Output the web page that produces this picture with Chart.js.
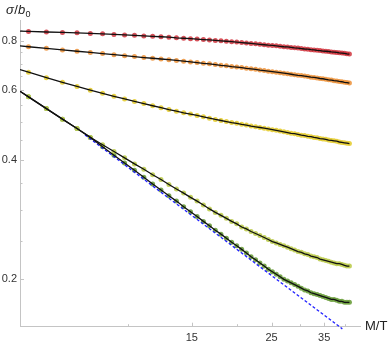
<!DOCTYPE html>
<html>
<head>
<meta charset="utf-8">
<script src="https://cdn.jsdelivr.net/npm/chart.js@4.4.1/dist/chart.umd.min.js"></script>
<style>
  body { margin: 0; background: #fff; }
  canvas { display: block; }
</style>
</head>
<body>
<canvas id="sigmaChart" width="390" height="344"></canvas>
<script>
// M/T values of the sampled points
var xs = [5.28, 5.92, 6.56, 7.20, 7.84, 8.48, 9.12, 9.76, 10.40, 11.04,
  11.68, 12.32, 12.96, 13.60, 14.24, 14.88, 15.52, 16.16, 16.80, 17.44,
  18.08, 18.72, 19.36, 20.00, 20.64, 21.28, 21.92, 22.56, 23.20, 23.84,
  24.48, 25.12, 25.76, 26.40, 27.04, 27.68, 28.32, 28.96, 29.60, 30.24,
  30.88, 31.52, 32.16, 32.80, 33.44, 34.08, 34.72, 35.36, 36.00, 36.64,
  37.28, 37.92, 38.56, 39.20, 39.84, 40.48, 41.12];

// sigma/b0 for each curve
var red = [0.844, 0.841, 0.839, 0.837, 0.834, 0.832, 0.829, 0.827, 0.825, 0.822,
  0.820, 0.818, 0.816, 0.813, 0.811, 0.809, 0.807, 0.805, 0.803, 0.801,
  0.799, 0.797, 0.795, 0.793, 0.791, 0.789, 0.787, 0.785, 0.783, 0.781,
  0.779, 0.778, 0.776, 0.774, 0.772, 0.771, 0.769, 0.767, 0.766, 0.764,
  0.762, 0.761, 0.759, 0.758, 0.756, 0.755, 0.753, 0.752, 0.751, 0.749,
  0.748, 0.747, 0.745, 0.744, 0.743, 0.741, 0.740];
var orange = [0.772, 0.765, 0.758, 0.752, 0.747, 0.742, 0.737, 0.733, 0.729, 0.725,
  0.722, 0.719, 0.716, 0.713, 0.710, 0.707, 0.704, 0.701, 0.699, 0.696,
  0.693, 0.691, 0.688, 0.686, 0.684, 0.681, 0.679, 0.677, 0.674, 0.672,
  0.670, 0.668, 0.666, 0.664, 0.662, 0.660, 0.658, 0.656, 0.654, 0.653,
  0.651, 0.649, 0.647, 0.646, 0.644, 0.642, 0.641, 0.639, 0.637, 0.636,
  0.634, 0.633, 0.631, 0.630, 0.628, 0.627, 0.625];
var yellow = [0.666, 0.645, 0.628, 0.613, 0.600, 0.589, 0.579, 0.570, 0.562, 0.555,
  0.548, 0.542, 0.536, 0.531, 0.526, 0.522, 0.518, 0.514, 0.510, 0.506,
  0.503, 0.500, 0.497, 0.495, 0.492, 0.490, 0.487, 0.485, 0.483, 0.481,
  0.479, 0.477, 0.475, 0.473, 0.471, 0.469, 0.467, 0.466, 0.464, 0.462,
  0.461, 0.459, 0.458, 0.456, 0.455, 0.453, 0.452, 0.451, 0.449, 0.448,
  0.447, 0.446, 0.444, 0.443, 0.442, 0.441, 0.440];
var lime = [0.577, 0.539, 0.507, 0.480, 0.456, 0.437, 0.420, 0.405, 0.391, 0.379,
  0.367, 0.357, 0.347, 0.338, 0.330, 0.322, 0.315, 0.308, 0.301, 0.295,
  0.290, 0.285, 0.280, 0.276, 0.271, 0.268, 0.264, 0.261, 0.258, 0.255,
  0.252, 0.249, 0.247, 0.245, 0.243, 0.241, 0.239, 0.237, 0.235, 0.234,
  0.232, 0.231, 0.229, 0.228, 0.227, 0.225, 0.224, 0.223, 0.222, 0.221,
  0.220, 0.219, 0.219, 0.218, 0.217, 0.216, 0.216];
var green = [0.577, 0.539, 0.507, 0.480, 0.456, 0.432, 0.411, 0.393, 0.377, 0.362,
  0.348, 0.336, 0.325, 0.315, 0.305, 0.296, 0.288, 0.280, 0.273, 0.266,
  0.260, 0.254, 0.248, 0.243, 0.238, 0.233, 0.228, 0.224, 0.220, 0.216,
  0.212, 0.209, 0.206, 0.203, 0.200, 0.198, 0.196, 0.194, 0.192, 0.190,
  0.188, 0.187, 0.185, 0.184, 0.183, 0.182, 0.181, 0.180, 0.179, 0.178,
  0.178, 0.177, 0.176, 0.176, 0.175, 0.175, 0.175];

// fitted curves start at the left edge
var lineStartX = 5;
var lineStartY = [0.845, 0.776, 0.676, 0.596, 0.596];

// dashed asymptote
var blueX = [7.58, 39.3];
var blueY = [0.4625, 0.150];

var xTicks = [15, 25, 35];
var xMinor = [10, 20, 30, 40];
var yTicks = [0.2, 0.4, 0.6, 0.8];
var yMinor = [0.25, 0.3, 0.35, 0.45, 0.5, 0.55, 0.65, 0.7, 0.75, 0.85];

var axisColor = '#c4c4c4';
var textColor = '#333';
var font = '"Liberation Sans", Arial, sans-serif';

var series = [red, orange, yellow, lime, green];
var dotColors = ['rgba(205,40,50,0.8)', 'rgba(236,145,55,0.85)', 'rgba(230,205,50,0.9)',
  'rgba(188,204,78,0.9)', 'rgba(108,158,60,0.9)'];

function pts(xv, yv) {
  return xv.map(function (x, i) { return {x: x, y: yv[i]}; });
}

var datasets = [];
series.forEach(function (s, i) {
  datasets.push({
    data: [{x: lineStartX, y: lineStartY[i]}].concat(pts(xs, s)),
    showLine: true,
    borderColor: '#111',
    borderWidth: 1.3,
    pointRadius: 0,
    order: 0
  });
});
datasets.push({
  data: pts(blueX, blueY),
  showLine: true,
  borderColor: '#1f1fff',
  borderWidth: 1.3,
  borderDash: [3, 2],
  pointRadius: 0,
  clip: false,
  order: 1
});
series.forEach(function (s, i) {
  datasets.push({
    data: pts(xs, s),
    showLine: false,
    pointRadius: 2.5,
    pointBackgroundColor: dotColors[i],
    pointBorderWidth: 0,
    order: 2
  });
});

// inward tick marks and the two axis titles
var decor = {
  id: 'decor',
  beforeDatasetsDraw: function (chart) {
    var ctx = chart.ctx, x = chart.scales.x, y = chart.scales.y, a = chart.chartArea;
    ctx.save();
    ctx.strokeStyle = axisColor;
    ctx.lineWidth = 1;
    ctx.beginPath();
    function xt(v, len) {
      var p = Math.round(x.getPixelForValue(v)) + 0.5;
      ctx.moveTo(p, a.bottom); ctx.lineTo(p, a.bottom - len);
    }
    function yt(v, len) {
      var p = Math.round(y.getPixelForValue(v)) + 0.5;
      ctx.moveTo(a.left, p); ctx.lineTo(a.left + len, p);
    }
    xTicks.forEach(function (v) { xt(v, 4); });
    xMinor.forEach(function (v) { xt(v, 2.5); });
    yTicks.forEach(function (v) { yt(v, 4); });
    yMinor.forEach(function (v) { yt(v, 2.5); });
    ctx.stroke();
    ctx.restore();
  },
  afterDraw: function (chart) {
    var ctx = chart.ctx, a = chart.chartArea;
    ctx.save();
    ctx.fillStyle = '#222';
    ctx.textBaseline = 'alphabetic';
    var px = 6, base = 14;
    ctx.font = 'italic 13px ' + font;
    ctx.fillText('σ', px, base); px += ctx.measureText('σ').width + 0.5;
    ctx.font = '13px ' + font;
    ctx.fillText('/', px, base); px += ctx.measureText('/').width;
    ctx.font = 'italic 13px ' + font;
    ctx.fillText('b', px, base); px += ctx.measureText('b').width + 0.3;
    ctx.font = '9px ' + font;
    ctx.fillText('0', px, base + 3);
    ctx.font = '13px ' + font;
    ctx.textBaseline = 'middle';
    ctx.fillText('M/T', a.right + 5, a.bottom);
    ctx.restore();
  }
};

var ctx = document.getElementById('sigmaChart');
var sigmaChart = new Chart(ctx, {
  type: 'scatter',
  data: {datasets: datasets},
  options: {
    responsive: false,
    animation: false,
    devicePixelRatio: 1,
    layout: {padding: {left: 0, right: 30, top: 20.7, bottom: 0}},
    plugins: {legend: {display: false}, tooltip: {enabled: false}},
    scales: {
      x: {
        type: 'logarithmic',
        min: 5,
        max: 44,
        grid: {display: false, drawTicks: false},
        border: {color: axisColor, width: 1},
        afterBuildTicks: function (s) { s.ticks = xTicks.map(function (v) { return {value: v}; }); },
        afterFit: function (s) { s.height = 17.3; },
        ticks: {
          autoSkip: false, maxRotation: 0, minRotation: 0, padding: 5,
          color: textColor, font: {family: font, size: 11},
          callback: function (v) { return String(v); }
        }
      },
      y: {
        type: 'logarithmic',
        min: 0.1519,
        max: 0.898,
        grid: {display: false, drawTicks: false},
        border: {color: axisColor, width: 1},
        afterBuildTicks: function (s) { s.ticks = yTicks.map(function (v) { return {value: v}; }); },
        afterFit: function (s) { s.width = 20; },
        ticks: {
          autoSkip: false, padding: 3,
          color: textColor, font: {family: font, size: 11},
          callback: function (v) { return v.toFixed(1); }
        }
      }
    }
  },
  plugins: [decor]
});
</script>
</body>
</html>
